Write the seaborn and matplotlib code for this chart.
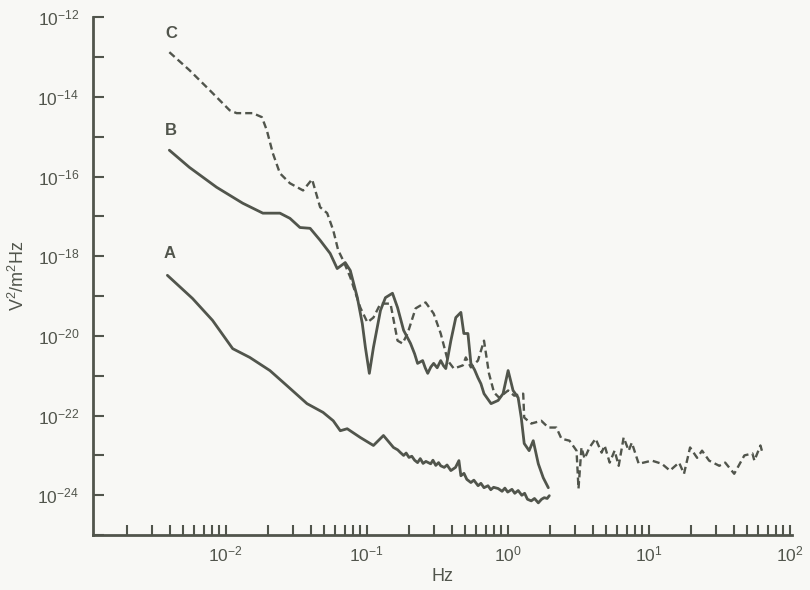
import numpy as np
import pandas as pd
import seaborn as sns
import matplotlib.pyplot as plt
from matplotlib.ticker import FixedLocator, LogLocator, LogFormatterSciNotation, NullFormatter

# values, stored as log10(Hz) and log10(V^2/m^2Hz)
a_logf = [-2.413, -2.235, -2.093, -1.95, -1.829, -1.686, -1.565, -1.423, -1.309, -1.237,
          -1.187, -1.138, -1.045, -0.952, -0.881, -0.810, -0.78, -0.76, -0.738, -0.72,
          -0.70, -0.68, -0.66, -0.639, -0.62, -0.60, -0.58, -0.546, -0.53, -0.51,
          -0.49, -0.475, -0.45, -0.43, -0.403, -0.37, -0.346, -0.332, -0.31, -0.29,
          -0.261, -0.24, -0.21, -0.19, -0.168, -0.14, -0.12, -0.10, -0.068, -0.04,
          -0.02, 0.00, 0.03, 0.05, 0.074, 0.10, 0.12, 0.14, 0.167, 0.19,
          0.217, 0.24, 0.259, 0.28, 0.295]
a_logp = [-18.48, -19.06, -19.61, -20.32, -20.54, -20.87, -21.25, -21.70, -21.92, -22.13,
          -22.38, -22.33, -22.55, -22.75, -22.50, -22.80, -22.86, -22.93, -23.00, -22.94,
          -23.05, -23.02, -23.12, -23.18, -23.08, -23.20, -23.15, -23.21, -23.12, -23.25,
          -23.18, -23.26, -23.30, -23.24, -23.38, -23.30, -23.13, -23.51, -23.45, -23.60,
          -23.68, -23.62, -23.76, -23.70, -23.81, -23.76, -23.86, -23.80, -23.83, -23.90,
          -23.82, -23.92, -23.85, -23.95, -23.88, -24.00, -23.95, -24.10, -24.14, -24.08,
          -24.19, -24.10, -24.06, -24.08, -24.01]

b_logf = [-2.399, -2.257, -2.064, -1.879, -1.736, -1.615, -1.544, -1.473, -1.401, -1.330,
          -1.259, -1.209, -1.152, -1.116, -1.066, -1.031, -1.009, -0.981, -0.952, -0.902,
          -0.867, -0.817, -0.781, -0.738, -0.689, -0.66, -0.639, -0.603, -0.585, -0.567,
          -0.545, -0.525, -0.50, -0.475, -0.455, -0.439, -0.403, -0.368, -0.332, -0.311,
          -0.282, -0.261, -0.235, -0.211, -0.19, -0.168, -0.118, -0.068, -0.033, 0.003,
          0.038, 0.074, 0.096, 0.117, 0.152, 0.181, 0.217, 0.252, 0.288]
b_logp = [-15.34, -15.77, -16.27, -16.67, -16.92, -16.92, -17.05, -17.28, -17.30, -17.60,
          -17.93, -18.31, -18.16, -18.36, -19.04, -19.69, -20.29, -20.94, -20.29, -19.36,
          -19.04, -18.93, -19.29, -19.86, -20.19, -20.45, -20.69, -20.62, -20.80, -20.94,
          -20.78, -20.69, -20.80, -20.62, -20.75, -20.82, -20.12, -19.54, -19.41, -19.94,
          -19.94, -20.69, -20.85, -21.05, -21.20, -21.45, -21.70, -21.62, -21.45, -20.87,
          -21.37, -21.55, -22.05, -22.70, -22.88, -22.63, -23.21, -23.56, -23.81]

c_logf = [-2.399, -2.257, -2.114, -1.971, -1.922, -1.808, -1.743, -1.708, -1.665, -1.615,
          -1.544, -1.451, -1.387, -1.330, -1.280, -1.237, -1.202, -1.166, -1.116, -1.045,
          -0.995, -0.952, -0.902, -0.831, -0.781, -0.746, -0.710, -0.653, -0.582, -0.525,
          -0.475, -0.425, -0.382, -0.318, -0.297, -0.261, -0.211, -0.168, -0.133, -0.097,
          -0.061, 0.003, 0.046, 0.110, 0.117, 0.167, 0.238, 0.288, 0.345, 0.381,
          0.438, 0.488, 0.502, 0.523, 0.545, 0.580, 0.623, 0.666, 0.687, 0.723,
          0.758, 0.787, 0.822, 0.858, 0.880, 0.915, 0.929, 1.022, 1.093, 1.150,
          1.215, 1.250, 1.293, 1.343, 1.378, 1.428, 1.500, 1.542, 1.606, 1.678,
          1.735, 1.749, 1.792, 1.806]
c_logp = [-12.88, -13.33, -13.83, -14.34, -14.41, -14.41, -14.51, -14.84, -15.42, -15.92,
          -16.17, -16.35, -16.07, -16.77, -16.92, -17.35, -17.85, -18.11, -18.53, -19.29,
          -19.66, -19.54, -19.19, -19.19, -20.12, -20.19, -19.94, -19.31, -19.16, -19.44,
          -19.94, -20.62, -20.82, -20.74, -20.54, -20.79, -20.62, -20.12, -20.94, -21.42,
          -21.55, -21.37, -21.50, -21.45, -22.05, -22.20, -22.13, -22.30, -22.30, -22.58,
          -22.63, -22.88, -23.83, -22.80, -23.08, -22.80, -22.58, -22.93, -22.75, -23.18,
          -22.88, -23.26, -22.55, -22.88, -22.68, -23.06, -23.21, -23.13, -23.21, -23.38,
          -23.18, -23.46, -22.80, -23.06, -22.88, -23.13, -23.26, -23.18, -23.46, -23.00,
          -22.95, -23.13, -22.75, -22.93]

curve_names = ["A", "B", "C"]

ink = "#51554c"
paper = "#f8f8f5"

sns.set_theme(style="ticks")
plt.rcParams["font.family"] = ["Liberation Sans", "DejaVu Sans"]
plt.rcParams["mathtext.default"] = "regular"

fig = plt.figure(figsize=(8.1, 5.9), dpi=100, facecolor=paper)
ax = fig.add_axes([0.115, 0.093, 0.863, 0.878], facecolor=paper)

curves = {"A": (a_logf, a_logp, "-"), "B": (b_logf, b_logp, "-"), "C": (c_logf, c_logp, "--")}
for name in curve_names:
    lf, lp, style = curves[name]
    df = pd.DataFrame({"f": 10.0 ** np.array(lf), "p": 10.0 ** np.array(lp)})
    sns.lineplot(data=df, x="f", y="p", ax=ax, sort=False, estimator=None,
                 color=ink, linestyle=style, linewidth=2.0 if style == "-" else 1.7)
    if style == "--":
        ax.lines[-1].set_dashes((3.0, 1.7))

ax.set_xscale("log")
ax.set_yscale("log")
ax.set_xlim(1.15e-3, 104)
ax.set_ylim(1e-25, 1e-12)

# curve labels
ax.text(4.1e-3, 10 ** -12.40, "C", color=ink, fontsize=12, ha="center", va="center", fontweight="bold")
ax.text(4.1e-3, 10 ** -14.84, "B", color=ink, fontsize=12, ha="center", va="center", fontweight="bold")
ax.text(4.0e-3, 10 ** -17.93, "A", color=ink, fontsize=12, ha="center", va="center", fontweight="bold")

# ticks
ax.xaxis.set_major_locator(LogLocator(base=10, numticks=20))
ax.xaxis.set_minor_locator(LogLocator(base=10, subs=np.arange(2, 10), numticks=20))
ax.xaxis.set_major_formatter(LogFormatterSciNotation())
ax.xaxis.set_minor_formatter(NullFormatter())
ax.yaxis.set_major_locator(FixedLocator([10.0 ** e for e in range(-24, -11, 2)]))
ax.yaxis.set_minor_locator(FixedLocator([10.0 ** e for e in range(-25, -11, 2)]))
ax.yaxis.set_major_formatter(LogFormatterSciNotation())
ax.yaxis.set_minor_formatter(NullFormatter())

ax.tick_params(axis="both", which="both", direction="in", color=ink, width=1.5,
               labelcolor=ink, labelsize=12.5)
ax.tick_params(axis="x", which="both", length=7, pad=7)
ax.tick_params(axis="y", which="both", length=8, pad=10)

sns.despine(ax=ax)
for side in ["left", "bottom"]:
    ax.spines[side].set_color(ink)
    ax.spines[side].set_linewidth(2.0)

ax.set_xlabel("Hz", color=ink, fontsize=13, labelpad=2)
ax.set_ylabel("V$^2$/m$^2$Hz", color=ink, fontsize=13, labelpad=7)

fig.savefig("out.png", dpi=100, facecolor=paper)
